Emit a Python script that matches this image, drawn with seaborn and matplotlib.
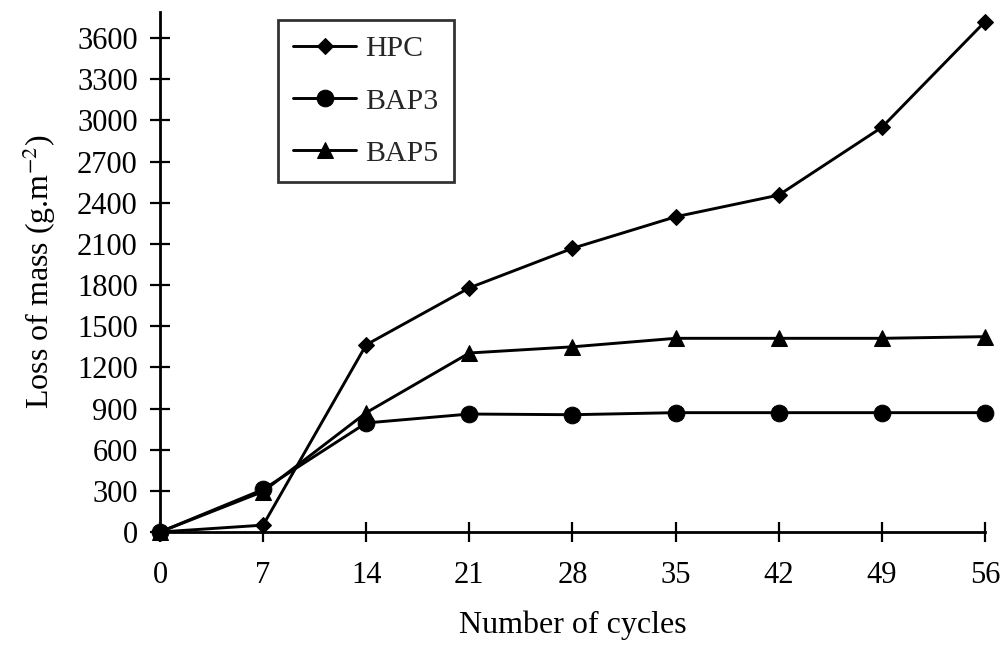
import matplotlib
matplotlib.use("Agg")
import matplotlib.pyplot as plt
import seaborn as sns
import pandas as pd

cycles = [0, 7, 14, 21, 28, 35, 42, 49, 56]
hpc = [0, 50, 1365, 1780, 2068, 2298, 2456, 2950, 3720]
bap3 = [0, 310, 795, 860, 855, 870, 870, 870, 870]
bap5 = [0, 295, 870, 1305, 1350, 1412, 1412, 1412, 1424]
series_names = ["HPC", "BAP3", "BAP5"]
yticks = list(range(0, 3601, 300))

sns.set_theme(style="white")
plt.rcParams["font.family"] = ["Liberation Serif", "DejaVu Serif"]
plt.rcParams["mathtext.fontset"] = "stix"

df = pd.DataFrame({
    "cycles": cycles * 3,
    "loss": hpc + bap3 + bap5,
    "series": [s for s in series_names for _ in cycles],
})

fig = plt.figure(figsize=(10.03, 6.45), dpi=100)
ax = fig.add_axes([0.1595, 0.1752, 0.8225, 0.806])

markers = {"HPC": "D", "BAP3": "o", "BAP5": "^"}
sizes = {"HPC": 8, "BAP3": 12, "BAP5": 12}
for name in series_names:
    sub = df[df["series"] == name]
    sns.lineplot(data=sub, x="cycles", y="loss", ax=ax, color="black",
                 marker=markers[name], markersize=sizes[name], linewidth=2.1,
                 markeredgecolor="black", label=name)
for ln in ax.lines:
    ln.set_clip_on(False)

ax.set_xlim(0, 56)
ax.set_ylim(0, 3790)
ax.set_xticks(cycles)
ax.set_yticks(yticks)
ax.tick_params(axis="both", which="major", bottom=True, left=True,
               direction="inout", length=14, width=1.6,
               labelsize=22, colors="black")
ax.tick_params(axis="x", pad=14)
ax.tick_params(axis="y", pad=9)
for s in ["top", "right"]:
    ax.spines[s].set_visible(False)
for s in ["left", "bottom"]:
    ax.spines[s].set_color("black")
    ax.spines[s].set_linewidth(2.0)

ax.set_xlabel("Number of cycles", fontsize=23, labelpad=15, color="black")
ax.set_ylabel(r"Loss of mass (g.m$^{-2}$)", fontsize=23, labelpad=14, color="black")

leg = ax.legend(loc="upper left", bbox_to_anchor=(0.143, 0.985), borderaxespad=0,
                fontsize=21.5, frameon=True, fancybox=False, handlelength=2.1,
                labelspacing=0.85, borderpad=0.52, handletextpad=0.3)
leg.get_frame().set_edgecolor("black")
leg.get_frame().set_linewidth(2.0)

fig.savefig("out.png", dpi=100)
